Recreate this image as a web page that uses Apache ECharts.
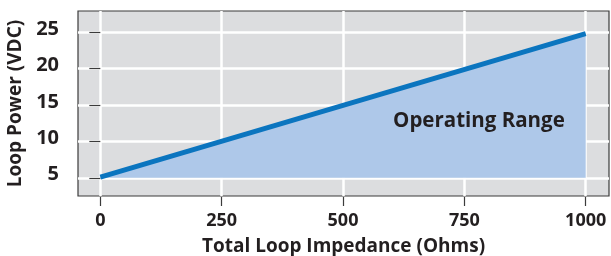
<!DOCTYPE html>
<html>
<head>
<meta charset="utf-8">
<script src="https://cdn.jsdelivr.net/npm/echarts@6/dist/echarts.min.js"></script>
<style>
  html, body { margin: 0; padding: 0; background: #fff; }
  #chart { width: 611px; height: 256px; }
</style>
</head>
<body>
<div id="chart"></div>
<script>
'use strict';
// loop impedance (ohms) vs minimum loop power (VDC)
var impedance = [0, 1000];
var loopPower = [5.1, 24.8];
var rangeBase = 5;
var xTicks = [0, 250, 500, 750, 1000];
var yTicks = [5, 10, 15, 20, 25];
var rangeLabel = { text: 'Operating Range', x: 780, y: 12.8 };

var font = '"Open Sans", "Noto Sans", sans-serif';
var ink = '#231f20';

var myChart = echarts.init(document.getElementById('chart'));
var option = {
  animation: false,
  textStyle: { fontFamily: font, color: ink },
  grid: {
    left: 78,
    right: 2,
    top: 11,
    bottom: 60,
    outerBoundsMode: 'none',
    show: true,
    backgroundColor: '#dcdddf',
    borderColor: '#3b3b3b',
    borderWidth: 1.2
  },
  xAxis: {
    type: 'value',
    min: -46,
    max: 1048,
    offset: 1,
    name: 'Total Loop Impedance (Ohms)',
    nameLocation: 'middle',
    nameGap: 40.5,
    nameTextStyle: { fontFamily: font, fontWeight: 'bold', fontSize: 19, color: ink },
    axisLine: { show: false },
    axisTick: { show: true, length: 9, customValues: xTicks, lineStyle: { color: '#3b3b3b', width: 1.2 } },
    axisLabel: {
      customValues: xTicks,
      margin: 15,
      formatter: function (v) { return String(v); },
      fontFamily: font, fontWeight: 'bold', fontSize: 18, color: ink
    },
    splitLine: { show: true, lineStyle: { color: '#ffffff', width: 2.5 } }
  },
  yAxis: {
    type: 'value',
    min: 2.5,
    max: 27.9,
    offset: 2,
    name: 'Loop Power (VDC)',
    nameLocation: 'middle',
    nameGap: 45,
    nameTextStyle: { fontFamily: font, fontWeight: 'bold', fontSize: 19, color: ink },
    axisLine: { show: false },
    axisTick: { show: true, length: 11, customValues: yTicks, lineStyle: { color: '#3b3b3b', width: 1.2 } },
    axisLabel: {
      customValues: yTicks,
      margin: 17,
      verticalAlign: 'bottom',
      lineHeight: 6,
      fontFamily: font, fontWeight: 'bold', fontSize: 20, color: ink
    },
    splitLine: { show: true, lineStyle: { color: '#ffffff', width: 2.5 } }
  },
  series: [
    {
      type: 'line',
      data: impedance.map(function (x, i) { return [x, loopPower[i]]; }),
      symbol: 'none',
      lineStyle: { color: '#0b75bf', width: 5, cap: 'butt' },
      areaStyle: { color: '#aec8e9', opacity: 1, origin: rangeBase },
      markPoint: {
        symbol: 'circle',
        symbolSize: 0,
        silent: true,
        label: {
          show: true,
          position: 'inside',
          formatter: rangeLabel.text,
          fontFamily: font,
          fontWeight: 'bold',
          fontSize: 20.5,
          color: ink
        },
        data: [{ coord: [rangeLabel.x, rangeLabel.y] }]
      }
    }
  ]
};
myChart.setOption(option);
</script>
</body>
</html>
